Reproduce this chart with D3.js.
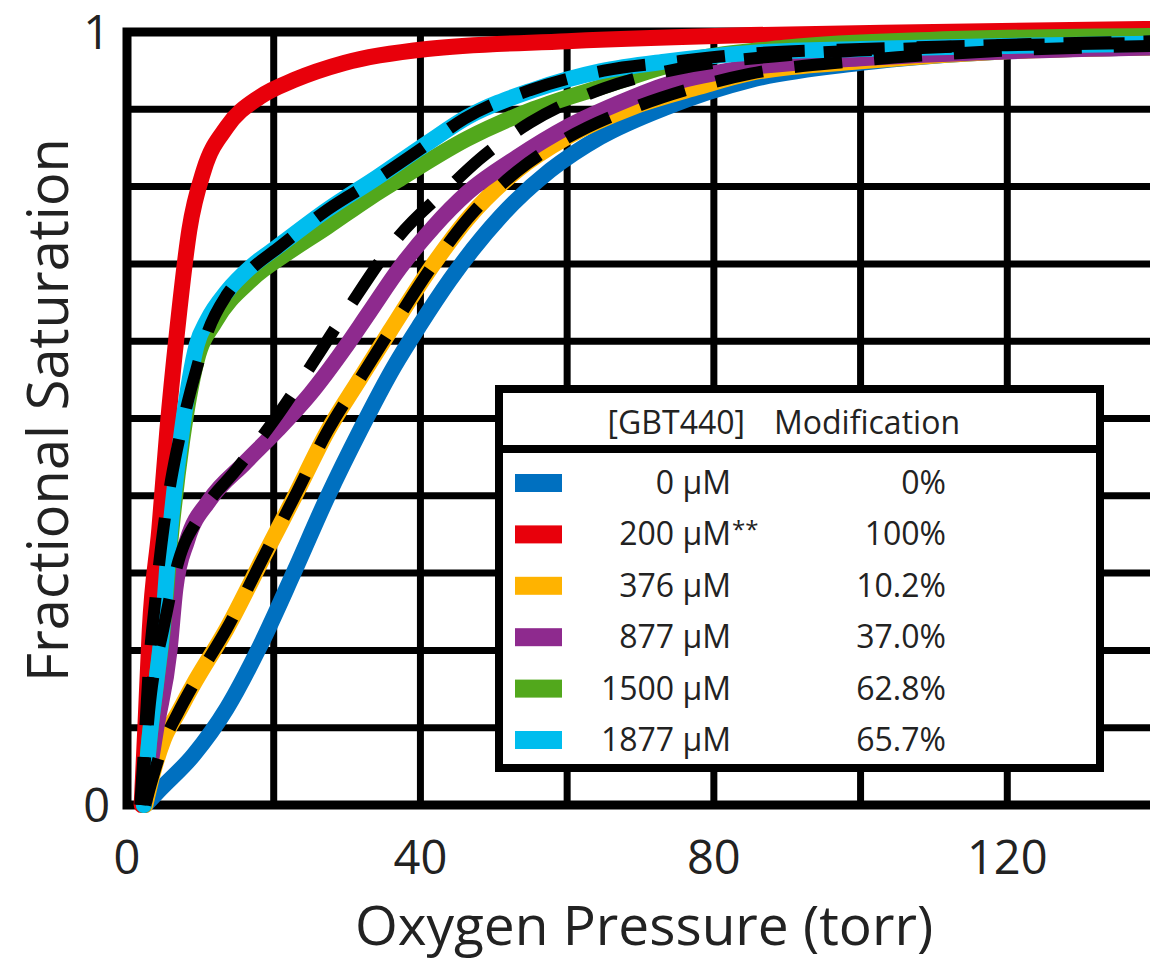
<!DOCTYPE html>
<html>
<head>
<meta charset="utf-8">
<script src="https://cdn.jsdelivr.net/npm/d3@7"></script>
<style>
html,body{margin:0;padding:0;background:#fff;}
svg{display:block;font-family:"Open Sans",sans-serif;}
</style>
</head>
<body>
<svg id="chart" width="1150" height="960"></svg>
<script>
// ---- data ----
const seriesNames = ["0 µM", "200 µM", "376 µM", "877 µM", "1500 µM", "1877 µM"];
const seriesMarks = ["", "**", "", "", "", ""];
const modification = ["0%", "100%", "10.2%", "37.0%", "62.8%", "65.7%"];
const seriesColors = ["#0070c0", "#e8000b", "#ffb300", "#8e2a8e", "#52a81c", "#00bdee"];

const pBlue   = [2.5, 4.5, 9.1, 13.6, 18.1, 22.8, 27.3, 31.8, 36.4, 40, 44, 50.9, 57.7, 64.5, 73.6, 85, 100, 120, 140];
const sBlue   = [0, 0.02, 0.065, 0.125, 0.205, 0.302, 0.398, 0.485, 0.567, 0.622, 0.679, 0.761, 0.821, 0.864, 0.903, 0.938, 0.96, 0.975, 0.98];
const pRed    = [2, 2.5, 3.1, 4.4, 5.5, 6.8, 8.5, 10.5, 13.6, 18.1, 22.8, 29.6, 40.9, 60, 85, 110, 140];
const sRed    = [0, 0.1, 0.226, 0.356, 0.485, 0.61, 0.744, 0.822, 0.877, 0.916, 0.938, 0.96, 0.978, 0.988, 0.996, 1.0, 1.004];
const pOrange = [2.5, 3.5, 5, 7, 9, 13.6, 19.1, 22.8, 27.3, 31.8, 35.9, 41.8, 46.4, 53.2, 60, 69, 78, 85, 100, 120, 140];
const sOrange = [0, 0.04, 0.085, 0.12, 0.155, 0.228, 0.33, 0.398, 0.483, 0.552, 0.614, 0.7, 0.758, 0.821, 0.864, 0.903, 0.929, 0.947, 0.962, 0.975, 0.98];
const pPurple = [2.3, 4, 5.8, 6.6, 8.2, 11.3, 16, 20.5, 25, 29.6, 33, 37.2, 41.8, 46.4, 53.2, 60, 66.8, 73.6, 82.6, 100, 120, 140];
const sPurple = [0, 0.1, 0.2, 0.28, 0.342, 0.395, 0.442, 0.485, 0.532, 0.59, 0.637, 0.695, 0.748, 0.792, 0.838, 0.877, 0.907, 0.932, 0.951, 0.966, 0.975, 0.98];
const pGreen  = [2.3, 3, 4, 4.8, 6, 7.5, 9.5, 12, 17, 22, 27.3, 33, 37.2, 46.4, 55.4, 65, 75, 90, 110, 140];
const sGreen  = [0, 0.08, 0.16, 0.22, 0.35, 0.47, 0.575, 0.625, 0.68, 0.715, 0.748, 0.785, 0.81, 0.862, 0.9, 0.93, 0.96, 0.98, 0.99, 0.995];
const pCyan   = [2.3, 3, 4, 4.8, 5.9, 7.5, 9.5, 11, 13.6, 17, 20.5, 27.3, 34.1, 40.9, 46.4, 55.4, 64.5, 73.6, 85, 100, 120, 140];
const sCyan   = [0, 0.08, 0.16, 0.226, 0.356, 0.485, 0.595, 0.628, 0.664, 0.697, 0.722, 0.77, 0.812, 0.856, 0.89, 0.925, 0.949, 0.962, 0.973, 0.978, 0.982, 0.985];

// fitted (dashed) curves
const pFitOrange = [2.5, 3.5, 5, 7, 9, 13.6, 19.1, 22.8, 27.3, 31.8, 35.9, 41.8, 46.4, 53.2, 60, 69, 78, 85, 100, 120, 140];
const sFitOrange = [0, 0.035, 0.08, 0.12, 0.155, 0.228, 0.33, 0.398, 0.483, 0.552, 0.614, 0.7, 0.758, 0.82, 0.863, 0.902, 0.93, 0.946, 0.963, 0.976, 0.982];
const pFitPurple = [2, 3, 5, 7, 10, 15, 20, 25, 30, 37, 44, 48, 55, 65, 75, 90, 110, 140];
const sFitPurple = [0, 0.12, 0.23, 0.315, 0.375, 0.435, 0.497, 0.567, 0.64, 0.735, 0.8, 0.835, 0.883, 0.927, 0.952, 0.97, 0.98, 0.988];
const pFitCyan   = [1.8, 2.5, 3, 3.8, 5, 6, 7.5, 9.5, 11, 13.6, 17, 20.5, 27.3, 34, 41, 46, 55, 65, 75, 85, 100, 120, 140];
const sFitCyan   = [0, 0.1, 0.18, 0.26, 0.36, 0.42, 0.49, 0.565, 0.612, 0.66, 0.694, 0.72, 0.77, 0.81, 0.855, 0.888, 0.925, 0.95, 0.962, 0.972, 0.978, 0.983, 0.986];

const xGridValues = [0, 20, 40, 60, 80, 100, 120, 140];
const yGridValues = [0, 0.1, 0.2, 0.3, 0.4, 0.5, 0.6, 0.7, 0.8, 0.9, 1];
const xTickLabels = [0, 40, 80, 120];
const yTickLabels = [0, 1];

// ---- drawing ----
const svg = d3.select("#chart");
const x = d3.scaleLinear().domain([0, 140]).range([127, 1154]);
const y = d3.scaleLinear().domain([0, 1]).range([805, 32]);

const grid = svg.append("g");
grid.selectAll("line.v").data(xGridValues).join("line")
  .attr("x1", d => x(d)).attr("x2", d => x(d))
  .attr("y1", y(0)).attr("y2", y(1))
  .attr("stroke", "#000").attr("stroke-width", 7);
grid.selectAll("line.h").data(yGridValues).join("line")
  .attr("x1", x(0)).attr("x2", 1150)
  .attr("y1", d => y(d)).attr("y2", d => y(d))
  .attr("stroke", "#000").attr("stroke-width", 7);
// frame
svg.append("path")
  .attr("d", `M1150,${y(1)} H${x(0)} V${y(0)} H1150`)
  .attr("fill", "none").attr("stroke", "#000").attr("stroke-width", 9);

const line = d3.line().x(d => x(d[0])).y(d => y(d[1])).curve(d3.curveMonotoneX);
const zip = (a, b) => a.map((v, i) => [v, b[i]]);

const series = [
  zip(pBlue, sBlue), zip(pRed, sRed), zip(pOrange, sOrange),
  zip(pPurple, sPurple), zip(pGreen, sGreen), zip(pCyan, sCyan)
];
const plot = svg.append("g");
series.forEach((s, i) => {
  plot.append("path").attr("d", line(s))
    .attr("fill", "none").attr("stroke", seriesColors[i])
    .attr("stroke-width", 16).attr("stroke-linecap", "round").attr("stroke-linejoin", "round");
});
const fits = [zip(pFitOrange, sFitOrange), zip(pFitPurple, sFitPurple), zip(pFitCyan, sFitCyan)];
fits.forEach(f => {
  plot.append("path").attr("d", line(f))
    .attr("fill", "none").attr("stroke", "#000")
    .attr("stroke-width", 12).attr("stroke-dasharray", "48,32");
});

// tick labels
svg.selectAll("text.xt").data(xTickLabels).join("text")
  .attr("x", d => x(d)).attr("y", 874)
  .attr("text-anchor", "middle").attr("font-size", 47).attr("fill", "#222")
  .text(d => d);
svg.selectAll("text.yt").data(yTickLabels).join("text")
  .attr("x", 110).attr("y", d => y(d) + 17)
  .attr("text-anchor", "end").attr("font-size", 47).attr("fill", "#222")
  .text(d => d);

// axis titles
svg.append("text").attr("x", 644).attr("y", 945)
  .attr("text-anchor", "middle").attr("font-size", 55).attr("fill", "#222")
  .text("Oxygen Pressure (torr)");
svg.append("text").attr("transform", "translate(68,410) rotate(-90)")
  .attr("text-anchor", "middle").attr("font-size", 56).attr("fill", "#222")
  .text("Fractional Saturation");

// legend
const lg = svg.append("g");
lg.append("rect").attr("x", 499).attr("y", 389).attr("width", 601).attr("height", 379)
  .attr("fill", "#fff").attr("stroke", "#000").attr("stroke-width", 8);
lg.append("line").attr("x1", 499).attr("x2", 1100).attr("y1", 449).attr("y2", 449)
  .attr("stroke", "#000").attr("stroke-width", 8);
lg.append("text").attr("x", 745).attr("y", 434).attr("text-anchor", "end")
  .attr("font-size", 32).attr("fill", "#222").text("[GBT440]");
lg.append("text").attr("x", 774).attr("y", 434).attr("text-anchor", "start")
  .attr("font-size", 32).attr("fill", "#222").text("Modification");

const rowY = d3.scaleLinear().domain([0, 5]).range([483, 740]);
seriesNames.forEach((name, i) => {
  lg.append("rect").attr("x", 515).attr("y", rowY(i) - 9).attr("width", 47).attr("height", 18)
    .attr("fill", seriesColors[i]);
  lg.append("text").attr("x", 731).attr("y", rowY(i) + 11).attr("text-anchor", "end")
    .attr("font-size", 32).attr("fill", "#222").text(name);
  if (seriesMarks[i]) {
    lg.append("text").attr("x", 732).attr("y", rowY(i) + 4).attr("text-anchor", "start")
      .attr("font-size", 24).attr("fill", "#222").text(seriesMarks[i]);
  }
  lg.append("text").attr("x", 946).attr("y", rowY(i) + 11).attr("text-anchor", "end")
    .attr("font-size", 32).attr("fill", "#222").text(modification[i]);
});
</script>
</body>
</html>
